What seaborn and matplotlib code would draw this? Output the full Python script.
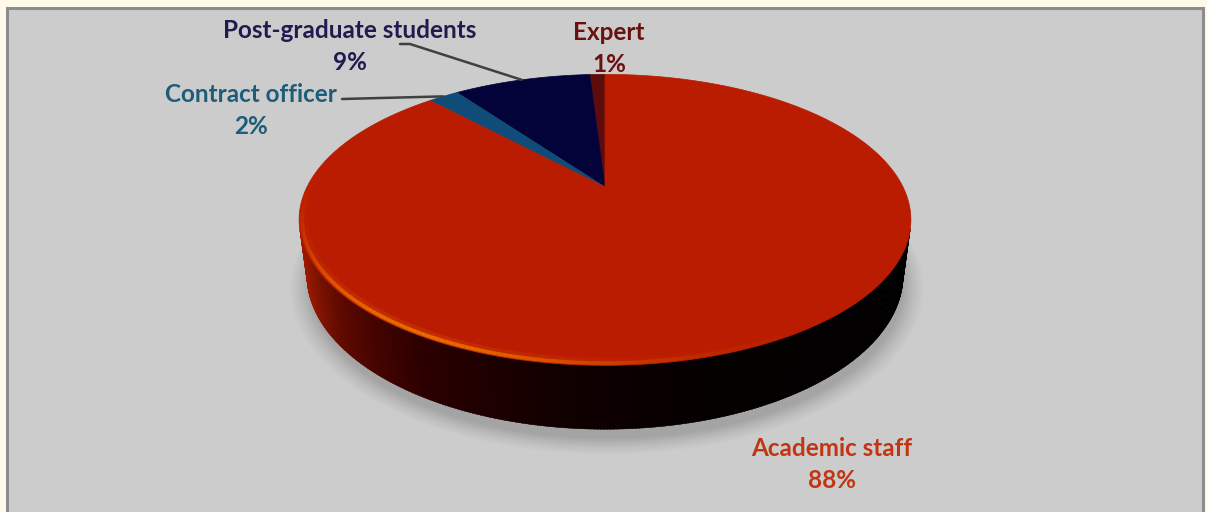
import numpy as np
import matplotlib
matplotlib.use("Agg")
import matplotlib.pyplot as plt
from matplotlib.patches import Polygon, Rectangle
from matplotlib.colors import to_rgb
import seaborn as sns

# --- data -------------------------------------------------------------
categories = ["Expert", "Post-graduate students", "Contract officer", "Academic staff"]
shares = [1, 9, 2, 88]          # percent
top_colors = ["#5e0b0b", "#03033a", "#0f4c78", "#b91c00"]
label_colors = ["#6b1010", "#1f1b4f", "#1c5d7a", "#c33512"]

# --- style ------------------------------------------------------------
sns.set_theme(style="white")
plt.rcParams["font.family"] = ["Lato", "DejaVu Sans"]

W, H = 1207, 512
fig = plt.figure(figsize=(W / 100, H / 100), dpi=100, facecolor="#fff9e9")
ax = fig.add_axes([0, 0, 1, 1])
ax.set_xlim(0, W)
ax.set_ylim(H, 0)
ax.axis("off")

# chart panel
ax.add_patch(Rectangle((7, 8), 1196, 520, facecolor="#cccccc",
                       edgecolor="#8c8c8c", lw=2.2, zorder=0))

# --- perspective projection of a tilted disc --------------------------
ELEV = np.deg2rad(27.6)
DIST = 3.926
SCALE = 1170
CX, CY = 605, 187
THICK = 0.21
s_e, c_e = np.sin(ELEV), np.cos(ELEV)


def project(t, y=0.0, r=1.0):
    px = r * np.cos(t)
    pz = -r * np.sin(t)
    vx, vy, vz = px, y - DIST * s_e, pz - DIST * c_e
    depth = -(vy * s_e + vz * c_e)
    up = vy * c_e - vz * s_e
    return CX + SCALE * vx / depth, CY - SCALE * up / depth


# wedge angles: counter-clockwise from 12 o'clock
fr = np.array(shares, dtype=float) / np.sum(shares)
bounds = np.deg2rad(90 + 360 * np.concatenate([[0], np.cumsum(fr)]))

# soft drop shadow under the disc
tt = np.linspace(0, 2 * np.pi, 400)
for rr, a in zip(np.linspace(1.06, 1.0, 8), np.linspace(0.03, 0.08, 8)):
    bx, by = project(tt, -THICK - 0.02, rr)
    ax.add_patch(Polygon(np.c_[bx + 2, by + 4], closed=True, facecolor="#6a6a6a",
                         edgecolor="none", alpha=a, zorder=1))

# side wall (visible front part), shaded from red-brown on the left to black
shade_deg = [190, 205, 222, 240, 262, 290, 360]
shade_col = np.array([to_rgb(c) for c in
                      ["#a81e00", "#951800", "#5a0800", "#2c0000", "#120000", "#030000", "#000000"]])


def side_color(deg):
    return tuple(np.interp(deg, shade_deg, shade_col[:, k]) for k in range(3))


t_lim = np.arcsin(-1 / (DIST * c_e))
t_side = np.linspace(np.pi - t_lim, 2 * np.pi + t_lim, 300)
for i in range(len(t_side) - 1):
    ta, tb = t_side[i], t_side[i + 1] + 0.004
    col = side_color(np.rad2deg(0.5 * (ta + tb)))
    xa0, ya0 = project(ta, 0)
    xb0, yb0 = project(tb, 0)
    xa1, ya1 = project(ta, -THICK)
    xb1, yb1 = project(tb, -THICK)
    ax.add_patch(Polygon([(xa0, ya0), (xb0, yb0), (xb1, yb1), (xa1, ya1)], closed=True,
                         facecolor=col, edgecolor=col, lw=0.3, zorder=2))

# top faces of the wedges
for i, col in enumerate(top_colors):
    ta = np.linspace(bounds[i], bounds[i + 1], max(4, int(fr[i] * 400)))
    ex, ey = project(ta, 0)
    pts = np.r_[[[CX, CY]], np.c_[ex, ey]]
    ax.add_patch(Polygon(pts, closed=True, facecolor=col, edgecolor=col, lw=0.5, zorder=3))

# orange bevel highlight along the front-left rim
t_rim = np.linspace(np.deg2rad(175), np.deg2rad(300), 140)
for j in range(len(t_rim) - 1):
    tm = np.rad2deg(0.5 * (t_rim[j] + t_rim[j + 1]))
    w = np.exp(-((tm - 238) / 34) ** 2)
    seg = np.array([t_rim[j], t_rim[j + 1]])
    x0, y0 = project(seg, 0.0, 0.985)
    ax.plot(x0, y0, color="#d84a00", lw=6, alpha=0.35 * w, solid_capstyle="butt", zorder=4)
    x1, y1 = project(seg, 0.0, 0.99)
    ax.plot(x1, y1, color="#f07800", lw=2.6, alpha=0.85 * w, solid_capstyle="butt", zorder=4)

# --- labels and leader lines -----------------------------------------
fs = 17.5
lab_pos = {
    "Expert": (609, 32),
    "Post-graduate students": (350, 30),
    "Contract officer": (251, 94),
    "Academic staff": (832, 449),
}
for name, val, col in zip(categories, shares, label_colors):
    x, y = lab_pos[name]
    ax.text(x, y, name, ha="center", va="center", fontsize=fs, fontweight="bold",
            color=col, zorder=6)
    ax.text(x, y + 32, f"{val}%", ha="center", va="center", fontsize=fs,
            fontweight="bold", color=col, zorder=6)

mid = 0.5 * (bounds[:-1] + bounds[1:])
# Post-graduate students leader
px, py = project(mid[1], 0)
ax.plot([400, 410, px], [44, 44, py], color="#404040", lw=1.8, zorder=5)
# Contract officer leader
qx, qy = project(mid[2], 0)
ax.plot([342, qx], [99, qy], color="#404040", lw=1.8, zorder=5)

fig.savefig("out.png", dpi=100, facecolor=fig.get_facecolor())
